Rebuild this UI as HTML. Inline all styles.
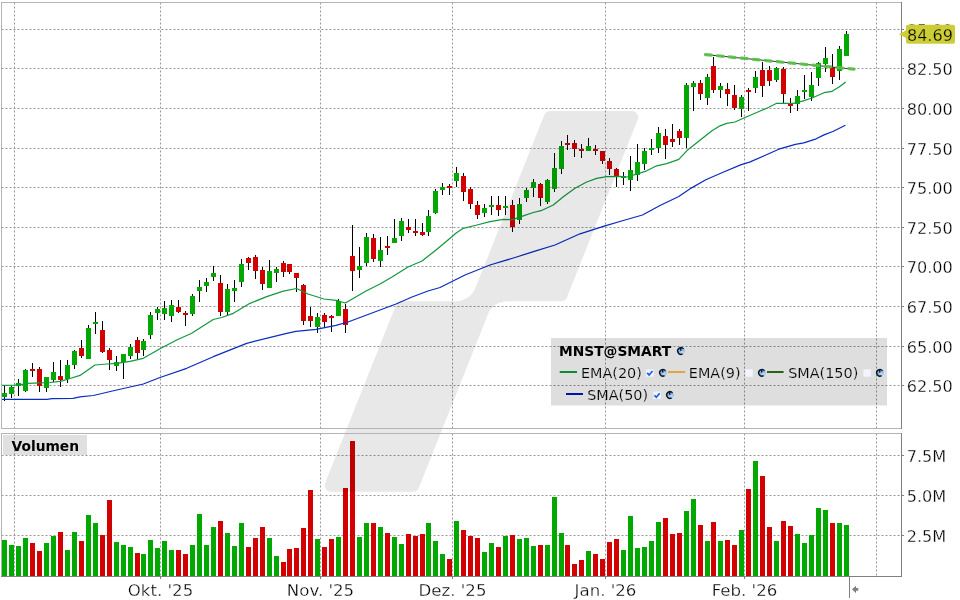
<!DOCTYPE html>
<html lang="de"><head><meta charset="utf-8"><title>MNST@SMART Chart</title>
<style>html,body{margin:0;padding:0;background:#fff}body{width:960px;height:600px;overflow:hidden}svg{display:block;will-change:transform}text{font-family:'DejaVu Sans','Liberation Sans',sans-serif;fill:#000}</style>
</head><body>
<svg width="960" height="600" viewBox="0 0 960 600">
<rect width="960" height="600" fill="#fff"/>
<g stroke="#969696" stroke-width="1" stroke-dasharray="2 2" fill="none">
<line x1="1.5" y1="29.5" x2="901" y2="29.5"/>
<line x1="1.5" y1="68.5" x2="901" y2="68.5"/>
<line x1="1.5" y1="108.5" x2="901" y2="108.5"/>
<line x1="1.5" y1="148.5" x2="901" y2="148.5"/>
<line x1="1.5" y1="187.5" x2="901" y2="187.5"/>
<line x1="1.5" y1="227.5" x2="901" y2="227.5"/>
<line x1="1.5" y1="266.5" x2="901" y2="266.5"/>
<line x1="1.5" y1="306.5" x2="901" y2="306.5"/>
<line x1="1.5" y1="346.5" x2="901" y2="346.5"/>
<line x1="1.5" y1="385.5" x2="901" y2="385.5"/>
<line x1="1.5" y1="455.5" x2="901" y2="455.5"/>
<line x1="1.5" y1="495.5" x2="901" y2="495.5"/>
<line x1="1.5" y1="535.5" x2="901" y2="535.5"/>
<line x1="14.5" y1="2.5" x2="14.5" y2="428"/>
<line x1="14.5" y1="433.5" x2="14.5" y2="576"/>
<line x1="160.5" y1="2.5" x2="160.5" y2="428"/>
<line x1="160.5" y1="433.5" x2="160.5" y2="576"/>
<line x1="320.5" y1="2.5" x2="320.5" y2="428"/>
<line x1="320.5" y1="433.5" x2="320.5" y2="576"/>
<line x1="452.5" y1="2.5" x2="452.5" y2="428"/>
<line x1="452.5" y1="433.5" x2="452.5" y2="576"/>
<line x1="605.5" y1="2.5" x2="605.5" y2="428"/>
<line x1="605.5" y1="433.5" x2="605.5" y2="576"/>
<line x1="744.5" y1="2.5" x2="744.5" y2="428"/>
<line x1="744.5" y1="433.5" x2="744.5" y2="576"/>
<line x1="876.5" y1="2.5" x2="876.5" y2="428"/>
<line x1="876.5" y1="433.5" x2="876.5" y2="576"/>
</g>
<rect x="3" y="435" width="84" height="20" fill="#000" fill-opacity="0.122"/>
<text x="11.5" y="451" font-size="13.8" font-weight="bold">Volumen</text>
<g shape-rendering="crispEdges">
<path d="M4 385v16M11 386v12M18 379v17M25 369v23M32 363v14M39 367v25M46 377v15M53 362v20M60 360v27M67 360v23M74 350v19M81 340v18M88 325v34M95 312v22M102 321v32M109 348v22M116 356v15M123 354v25M130 344v15M137 337v23M143 339v17M150 312v27M157 307v13M164 301v19M171 300v22M178 300v13M185 311v15M192 294v22M199 280v22M206 278v14M213 266v15M220 275v41M227 284v31M234 280v22M241 259v28M248 257v13M255 255v24M262 267v23M269 260v28M276 267v15M283 261v16M289 264v10M296 273v19M303 284v41M310 307v20M317 313v20M324 313v14M331 315v17M338 299v17M345 304v29M352 225v66M359 247v31M366 233v33M373 234v28M380 237v30M387 236v19M394 219v24M401 218v23M408 219v14M415 219v17M422 223v13M428 210v26M435 189v25M442 183v12M449 184v11M456 167v20M463 173v28M470 187v22M477 201v18M484 204v13M491 196v19M498 196v20M505 196v19M512 200v32M519 198v26M526 188v14M533 179v18M540 183v23M547 179v25M554 153v39M561 141v33M567 135v15M574 140v17M581 144v14M588 138v13M595 145v10M602 151v13M609 158v17M616 168v19M623 172v13M630 156v35M637 144v37M644 148v22M651 139v16M658 127v26M665 129v30M672 124v23M679 129v16M686 83v65M693 81v30M700 80v20M707 74v31M713 57v36M720 83v15M727 83v23M734 85v25M741 95v22M748 88v23M755 71v22M762 62v35M769 66v20M776 67v15M783 67v36M790 98v15M797 90v21M804 75v24M811 72v29M818 62v24M825 47v25M832 54v30M839 46v34M846 31v25" stroke="#000" stroke-width="1" fill="none" transform="translate(.5 0)"/>
<path d="M2 393h5v4h-5zM9 387h5v7h-5zM16 383h5v3h-5zM23 370h5v21h-5zM44 377h5v11h-5zM51 372h5v8h-5zM65 365h5v14h-5zM72 351h5v14h-5zM86 328h5v31h-5zM93 322h5v2h-5zM114 362h5v4h-5zM121 354h5v8h-5zM128 347h5v9h-5zM141 341h5v9h-5zM148 315h5v20h-5zM155 309h5v4h-5zM162 308h5v6h-5zM169 305h5v11h-5zM190 296h5v18h-5zM197 287h5v4h-5zM204 282h5v4h-5zM211 273h5v4h-5zM225 289h5v23h-5zM232 288h5v3h-5zM239 264h5v18h-5zM267 271h5v17h-5zM274 269h5v4h-5zM315 317h5v10h-5zM336 301h5v15h-5zM357 266h5v4h-5zM364 237h5v26h-5zM378 250h5v11h-5zM392 238h5v5h-5zM399 221h5v15h-5zM426 216h5v16h-5zM433 191h5v22h-5zM440 187h5v3h-5zM454 173h5v8h-5zM482 208h5v5h-5zM489 205h5v2h-5zM503 206h5v2h-5zM517 204h5v16h-5zM524 190h5v8h-5zM531 182h5v6h-5zM545 180h5v22h-5zM552 168h5v21h-5zM559 146h5v23h-5zM586 146h5v5h-5zM621 176h5v2h-5zM628 170h5v10h-5zM635 162h5v13h-5zM642 151h5v13h-5zM649 148h5v2h-5zM656 133h5v15h-5zM684 85h5v53h-5zM691 83h5v4h-5zM705 77h5v21h-5zM718 86h5v4h-5zM739 97h5v12h-5zM753 77h5v11h-5zM774 68h5v12h-5zM795 96h5v8h-5zM802 90h5v2h-5zM809 85h5v12h-5zM816 63h5v15h-5zM823 58h5v6h-5zM837 49h5v22h-5zM844 34h5v22h-5z" fill="#00a800"/>
<path d="M30 369h5v2h-5zM37 369h5v17h-5zM58 376h5v4h-5zM79 348h5v8h-5zM100 330h5v22h-5zM107 350h5v10h-5zM135 340h5v13h-5zM176 307h5v5h-5zM183 313h5v2h-5zM218 283h5v29h-5zM246 258h5v5h-5zM253 257h5v14h-5zM260 270h5v14h-5zM281 263h5v9h-5zM287 264h5v8h-5zM294 273h5v5h-5zM301 285h5v36h-5zM308 316h5v5h-5zM322 315h5v7h-5zM329 316h5v2h-5zM343 309h5v16h-5zM350 256h5v15h-5zM371 238h5v21h-5zM385 246h5v2h-5zM406 227h5v3h-5zM413 231h5v2h-5zM420 232h5v3h-5zM447 186h5v2h-5zM461 176h5v16h-5zM468 189h5v15h-5zM475 205h5v10h-5zM496 205h5v5h-5zM510 205h5v22h-5zM538 184h5v14h-5zM565 143h5v2h-5zM572 143h5v6h-5zM579 149h5v2h-5zM593 149h5v2h-5zM600 151h5v10h-5zM607 161h5v8h-5zM614 169h5v7h-5zM663 136h5v9h-5zM670 139h5v3h-5zM677 131h5v7h-5zM698 83h5v11h-5zM711 66h5v24h-5zM725 89h5v5h-5zM732 95h5v13h-5zM746 90h5v2h-5zM760 70h5v16h-5zM767 70h5v11h-5zM781 69h5v25h-5zM788 104h5v2h-5zM830 67h5v10h-5z" fill="#d20000"/>
<path d="M2 540h5v36h-5zM9 545h5v31h-5zM16 546h5v30h-5zM23 538h5v38h-5zM44 543h5v33h-5zM51 536h5v40h-5zM65 550h5v26h-5zM72 532h5v44h-5zM86 515h5v61h-5zM93 523h5v53h-5zM114 542h5v34h-5zM121 545h5v31h-5zM128 547h5v29h-5zM141 554h5v22h-5zM148 540h5v36h-5zM155 548h5v28h-5zM162 541h5v35h-5zM169 550h5v26h-5zM190 545h5v31h-5zM197 514h5v62h-5zM204 545h5v31h-5zM211 527h5v49h-5zM225 533h5v43h-5zM232 546h5v30h-5zM239 523h5v53h-5zM267 538h5v38h-5zM274 556h5v20h-5zM315 539h5v37h-5zM336 537h5v39h-5zM357 537h5v39h-5zM364 523h5v53h-5zM378 527h5v49h-5zM392 537h5v39h-5zM399 544h5v32h-5zM426 523h5v53h-5zM433 541h5v35h-5zM440 554h5v22h-5zM454 521h5v55h-5zM482 552h5v24h-5zM489 543h5v33h-5zM503 536h5v40h-5zM517 539h5v37h-5zM524 538h5v38h-5zM531 546h5v30h-5zM545 545h5v31h-5zM552 497h5v79h-5zM559 533h5v43h-5zM586 551h5v25h-5zM621 550h5v26h-5zM628 516h5v60h-5zM635 548h5v28h-5zM642 547h5v29h-5zM649 541h5v35h-5zM656 522h5v54h-5zM684 511h5v65h-5zM691 499h5v77h-5zM705 541h5v35h-5zM718 541h5v35h-5zM739 530h5v46h-5zM753 461h5v115h-5zM774 541h5v35h-5zM795 534h5v42h-5zM802 543h5v33h-5zM809 535h5v41h-5zM816 508h5v68h-5zM823 510h5v66h-5zM837 523h5v53h-5zM844 525h5v51h-5z" fill="#00a800"/>
<path d="M30 543h5v33h-5zM37 551h5v25h-5zM58 532h5v44h-5zM79 541h5v35h-5zM100 535h5v41h-5zM107 500h5v76h-5zM135 553h5v23h-5zM176 550h5v26h-5zM183 554h5v22h-5zM218 521h5v55h-5zM246 547h5v29h-5zM253 538h5v38h-5zM260 527h5v49h-5zM281 562h5v14h-5zM287 549h5v27h-5zM294 548h5v28h-5zM301 528h5v48h-5zM308 490h5v86h-5zM322 547h5v29h-5zM329 539h5v37h-5zM343 488h5v88h-5zM350 441h5v135h-5zM371 523h5v53h-5zM385 533h5v43h-5zM406 534h5v42h-5zM413 536h5v40h-5zM420 534h5v42h-5zM447 559h5v17h-5zM461 530h5v46h-5zM468 536h5v40h-5zM475 538h5v38h-5zM496 547h5v29h-5zM510 535h5v41h-5zM538 545h5v31h-5zM565 545h5v31h-5zM572 564h5v12h-5zM579 560h5v16h-5zM593 554h5v22h-5zM600 559h5v17h-5zM607 542h5v34h-5zM614 539h5v37h-5zM663 518h5v58h-5zM670 534h5v42h-5zM677 533h5v43h-5zM698 525h5v51h-5zM711 522h5v54h-5zM725 540h5v36h-5zM732 545h5v31h-5zM746 489h5v87h-5zM760 476h5v100h-5zM767 527h5v49h-5zM781 521h5v55h-5zM788 526h5v50h-5zM830 523h5v53h-5z" fill="#d20000"/>
</g>
<path d="M1.5 385.3 L14.0 385.2 L21.0 384.7 L28.0 383.3 L40.0 382.8 L50.0 382.5 L60.0 381.3 L63.0 380.6 L70.0 378.5 L80.0 375.4 L95.0 365.0 L106.7 364.0 L116.7 363.3 L130.0 361.3 L143.3 358.3 L160.0 348.8 L176.7 340.0 L191.7 333.3 L213.3 319.5 L221.7 317.5 L233.3 313.3 L250.0 303.3 L266.7 296.7 L283.3 291.2 L296.7 288.5 L308.0 294.0 L324.0 299.0 L336.0 300.4 L345.4 303.0 L354.0 298.0 L366.0 291.0 L380.0 284.0 L392.0 277.0 L408.0 267.0 L422.0 261.0 L436.0 250.0 L448.0 240.0 L456.5 232.7 L463.3 228.3 L477.0 225.0 L490.0 221.7 L503.3 219.3 L512.5 219.6 L523.3 215.8 L533.3 212.5 L541.0 210.7 L553.3 205.0 L563.3 196.7 L575.0 188.3 L586.7 182.0 L596.7 178.3 L606.7 176.7 L620.0 176.3 L626.7 177.0 L636.7 174.2 L646.7 170.8 L656.7 165.8 L666.7 163.7 L678.8 159.4 L687.0 150.6 L699.6 140.6 L712.0 130.8 L720.0 125.8 L726.7 123.4 L735.0 122.0 L743.3 118.3 L756.7 112.5 L768.3 107.5 L776.7 103.3 L786.7 103.3 L793.3 103.3 L803.3 100.8 L812.0 98.0 L824.0 92.7 L832.0 91.3 L838.7 87.3 L845.7 82.0" fill="none" stroke="#14983f" stroke-width="1.25" stroke-linejoin="round"/>
<path d="M1.5 399.3 L47.0 399.3 L52.0 398.6 L73.0 398.4 L80.0 396.9 L93.3 395.5 L116.7 390.0 L136.7 385.5 L143.3 384.0 L160.0 377.5 L186.7 368.3 L213.3 356.7 L246.7 343.3 L286.7 333.3 L296.0 331.4 L316.0 329.4 L336.0 325.4 L348.0 322.0 L364.0 316.0 L380.0 310.0 L396.0 304.0 L412.0 297.0 L428.0 291.0 L440.0 287.5 L465.0 275.0 L490.0 265.0 L515.0 257.5 L535.0 251.2 L555.0 245.0 L580.0 233.8 L605.0 225.8 L625.0 220.0 L642.5 215.0 L660.0 205.5 L678.8 196.5 L691.2 188.1 L705.8 179.8 L722.5 172.5 L741.2 164.6 L749.6 162.1 L764.2 155.8 L778.8 149.2 L795.4 144.4 L803.8 142.9 L816.2 138.8 L824.6 134.6 L832.9 131.5 L845.4 125.2" fill="none" stroke="#0c2cc0" stroke-width="1.25" stroke-linejoin="round"/>
<line x1="704.5" y1="54.5" x2="855" y2="69.3" stroke="#333" stroke-width="1"/>
<line x1="705.5" y1="54.6" x2="854" y2="69.2" stroke="#5cc04a" stroke-opacity="0.92" stroke-width="3.2" stroke-dasharray="6 6" stroke-linecap="round"/>
<path d="M544.25 114.97 A6.3 6.3 0 0 1 550.11 111.00 L631.85 111.00 A6.3 6.3 0 0 1 637.70 119.63 L567.01 297.23 A6.3 6.3 0 0 1 561.16 301.20 L507.41 301.20 A21.0 21.0 0 0 0 487.90 314.43 L418.92 487.73 A6.3 6.3 0 0 1 413.07 491.70 L330.93 491.70 A6.3 6.3 0 0 1 325.08 483.07 L395.88 305.17 A6.3 6.3 0 0 1 401.74 301.20 L455.89 301.20 A21.0 21.0 0 0 0 475.40 287.97 Z" fill="#000" fill-opacity="0.09"/>
<g shape-rendering="crispEdges" fill="none">
<path d="M1.5 428.5V2.5H901" stroke="#b4b4b4"/>
<path d="M1.5 428.5H901" stroke="#b4b4b4"/>
<path d="M1.5 576V433.5H901" stroke="#b4b4b4"/>
<path d="M901.5 2V429" stroke="#808080"/>
<path d="M901.5 433V577" stroke="#808080"/>
<path d="M1 576.5H902" stroke="#808080"/>
<path d="M902 29.5h2M902 68.5h2M902 108.5h2M902 148.5h2M902 187.5h2M902 227.5h2M902 266.5h2M902 306.5h2M902 346.5h2M902 385.5h2M902 455.5h2M902 495.5h2M902 535.5h2M160.5 577v2M320.5 577v2M452.5 577v2M605.5 577v2M744.5 577v2" stroke="#808080"/>
<path d="M849.5 576V598" stroke="#808080"/>
</g>
<path d="M852 589.3L856 585.8V588H858.3V590.7H856V593.2Z" fill="#808080"/>
<g font-size="16.1" stroke="#fff" stroke-width="0.3">
<text x="906.7" y="36.2">85.00</text>
<text x="906.7" y="75.2">82.50</text>
<text x="906.7" y="115.2">80.00</text>
<text x="906.7" y="155.2">77.50</text>
<text x="906.7" y="194.2">75.00</text>
<text x="906.7" y="234.2">72.50</text>
<text x="906.7" y="273.2">70.00</text>
<text x="906.7" y="313.2">67.50</text>
<text x="906.7" y="353.2">65.00</text>
<text x="906.7" y="392.2">62.50</text>
<text x="906.7" y="462.2">7.5M</text>
<text x="906.7" y="502.2">5.0M</text>
<text x="906.7" y="542.2">2.5M</text>
<text x="160.5" y="596" font-size="16.6" text-anchor="middle">Okt. '25</text>
<text x="320.5" y="596" font-size="16.6" text-anchor="middle">Nov. '25</text>
<text x="452.5" y="596" font-size="16.6" text-anchor="middle">Dez. '25</text>
<text x="605.5" y="596" font-size="16.6" text-anchor="middle">Jan. '26</text>
<text x="744.5" y="596" font-size="16.6" text-anchor="middle">Feb. '26</text>
</g>
<path d="M899 34.3L906 30.3V26.7Q906 24.7 908 24.7H953Q955 24.7 955 26.7V41.7Q955 43.7 953 43.7H908Q906 43.7 906 41.7V38Z" fill="#cccc33" fill-opacity="0.99"/>
<text x="906.9" y="41" font-size="16.1" stroke="#cccc33" stroke-width="0.3">84.69</text>
<rect x="551" y="338" width="336" height="67.5" fill="#000" fill-opacity="0.13"/>
<text x="559" y="355.8" font-size="13.8" font-weight="bold">MNST@SMART</text>
<g transform="translate(681.0 351.0)"><circle r="3.7" fill="#86b6e4"/><circle cx="1.3" cy="1.3" r="1.9" fill="#b4d6f4"/><path d="M2.5 -2.1A3.3 3.3 0 1 0 1.6 2.9" fill="none" stroke="#0a1626" stroke-width="1.4"/><path d="M0.6 -3.2Q-1.4 -1.6 0.3 -0.4" fill="none" stroke="#0a1626" stroke-width="1.3"/></g>
<line x1="559.7" y1="372" x2="577" y2="372" stroke="#0a8c32" stroke-width="2"/>
<text x="581" y="377.8" font-size="14.4" stroke="#dedede" stroke-width="0.2">EMA(20)</text>
<rect x="646.2" y="369.3" width="7.4" height="7.4" fill="#f4f4ff"/><path d="M647.2 372.9l1.9 2.1l3.4 -4" fill="none" stroke="#0f62e6" stroke-width="1.7"/>
<g transform="translate(663.0 372.8)"><circle r="3.7" fill="#86b6e4"/><circle cx="1.3" cy="1.3" r="1.9" fill="#b4d6f4"/><path d="M2.5 -2.1A3.3 3.3 0 1 0 1.6 2.9" fill="none" stroke="#0a1626" stroke-width="1.4"/><path d="M0.6 -3.2Q-1.4 -1.6 0.3 -0.4" fill="none" stroke="#0a1626" stroke-width="1.3"/></g>
<line x1="668" y1="372" x2="685.2" y2="372" stroke="#e0a83c" stroke-width="2"/>
<text x="688.8" y="377.8" font-size="14.4" stroke="#dedede" stroke-width="0.2">EMA(9)</text>
<rect x="745.4" y="369.3" width="7.4" height="7.4" fill="#f4f4ff"/>
<g transform="translate(762.0 372.8)"><circle r="3.7" fill="#86b6e4"/><circle cx="1.3" cy="1.3" r="1.9" fill="#b4d6f4"/><path d="M2.5 -2.1A3.3 3.3 0 1 0 1.6 2.9" fill="none" stroke="#0a1626" stroke-width="1.4"/><path d="M0.6 -3.2Q-1.4 -1.6 0.3 -0.4" fill="none" stroke="#0a1626" stroke-width="1.3"/></g>
<line x1="767" y1="372" x2="783.6" y2="372" stroke="#2a6410" stroke-width="2"/>
<text x="788.2" y="377.8" font-size="14.4" stroke="#dedede" stroke-width="0.2">SMA(150)</text>
<rect x="863.4" y="369.3" width="7.4" height="7.4" fill="#f4f4ff"/>
<g transform="translate(880.0 372.8)"><circle r="3.7" fill="#86b6e4"/><circle cx="1.3" cy="1.3" r="1.9" fill="#b4d6f4"/><path d="M2.5 -2.1A3.3 3.3 0 1 0 1.6 2.9" fill="none" stroke="#0a1626" stroke-width="1.4"/><path d="M0.6 -3.2Q-1.4 -1.6 0.3 -0.4" fill="none" stroke="#0a1626" stroke-width="1.3"/></g>
<line x1="566" y1="394" x2="583" y2="394" stroke="#0014aa" stroke-width="2"/>
<text x="587.2" y="399.8" font-size="14.4" stroke="#dedede" stroke-width="0.2">SMA(50)</text>
<rect x="653.4" y="391.6" width="7.4" height="7.4" fill="#f4f4ff"/><path d="M654.4 395.2l1.9 2.1l3.4 -4" fill="none" stroke="#0f62e6" stroke-width="1.7"/>
<g transform="translate(670.0 395.0)"><circle r="3.7" fill="#86b6e4"/><circle cx="1.3" cy="1.3" r="1.9" fill="#b4d6f4"/><path d="M2.5 -2.1A3.3 3.3 0 1 0 1.6 2.9" fill="none" stroke="#0a1626" stroke-width="1.4"/><path d="M0.6 -3.2Q-1.4 -1.6 0.3 -0.4" fill="none" stroke="#0a1626" stroke-width="1.3"/></g>
</svg></body></html>
